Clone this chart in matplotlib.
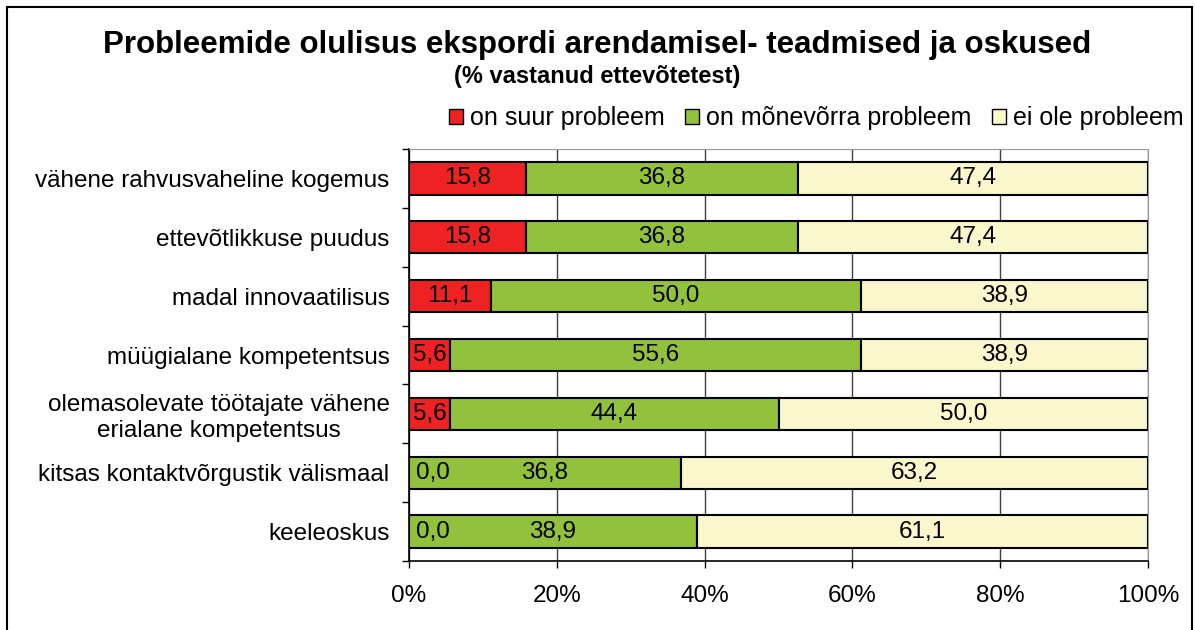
import numpy as np
import matplotlib.pyplot as plt
from matplotlib.patches import Rectangle, Patch

plt.rcParams['font.family'] = ['Liberation Sans', 'DejaVu Sans']

categories = ["vähene rahvusvaheline kogemus",
              "ettevõtlikkuse puudus",
              "madal innovaatilisus",
              "müügialane kompetentsus",
              "olemasolevate töötajate vähene\nerialane kompetentsus",
              "kitsas kontaktvõrgustik välismaal",
              "keeleoskus"]
suur = [15.8, 15.8, 11.1, 5.6, 5.6, 0.0, 0.0]
monevorra = [36.8, 36.8, 50.0, 55.6, 44.4, 36.8, 38.9]
ei_ole = [47.4, 47.4, 38.9, 38.9, 50.0, 63.2, 61.1]
series_names = ["on suur probleem", "on mõnevõrra probleem", "ei ole probleem"]
colors = ["#ee2222", "#92c13e", "#faf7cc"]

fig = plt.figure(figsize=(11.95, 6.3), dpi=100)
ax = fig.add_axes([0.3423, 0.1095, 0.6184, 0.654])

vals = np.array([suur, monevorra, ei_ole])
tot = vals.sum(axis=0)
pct = vals / tot * 100
y = np.arange(len(categories))

left = np.zeros(len(categories))
for i in range(3):
    ax.barh(y, pct[i], left=left, height=0.55, color=colors[i],
            edgecolor='black', linewidth=1.5, zorder=3)
    for j in range(len(categories)):
        lab = ("%.1f" % vals[i, j]).replace('.', ',')
        if vals[i, j] == 0:
            ax.text(left[j] + 0.9, y[j], lab, ha='left', va='center',
                    fontsize=17.5, zorder=4)
        else:
            ax.text(left[j] + pct[i, j] / 2, y[j], lab, ha='center', va='center',
                    fontsize=17.5, zorder=4)
    left += pct[i]

ax.set_xlim(0, 100)
ax.set_ylim(6.5, -0.5)
ax.set_xticks(np.arange(0, 101, 20))
ax.set_xticklabels(["%d%%" % v for v in range(0, 101, 20)], fontsize=17.5)
ax.tick_params(axis='x', length=5, width=1, pad=12)
ax.xaxis.grid(True, color='#404040', linewidth=1, zorder=0)
ax.set_axisbelow(True)

ax.set_yticks(y)
ax.set_yticklabels(categories, fontsize=17.5, multialignment='center')
ax.set_yticks(np.arange(-0.5, 7, 1), minor=True)
ax.tick_params(axis='y', which='major', length=0, pad=14)
ax.tick_params(axis='y', which='minor', length=5, width=1)

for s in ['top', 'right']:
    ax.spines[s].set_color('#999999')
ax.spines['left'].set_linewidth(1.2)
ax.spines['bottom'].set_linewidth(1.2)

fig.text(0.5, 0.929, "Probleemide olulisus ekspordi arendamisel- teadmised ja oskused",
         ha='center', va='center', fontsize=22.5, fontweight='bold')
fig.text(0.5, 0.879, "(% vastanud ettevõtetest)", ha='center', va='center',
         fontsize=17, fontweight='bold')

handles = [Patch(facecolor=c, edgecolor='black', linewidth=1) for c in colors]
fig.legend(handles, series_names, ncol=3, loc='center right',
           bbox_to_anchor=(1.0, 0.812), frameon=False, fontsize=18,
           handlelength=0.55, handleheight=0.55, handletextpad=0.3,
           columnspacing=0.8, borderaxespad=0.05)

fig.patches.append(Rectangle((7 / 1195, -0.01), 1185 / 1195, 1 - 7 / 630 + 0.01,
                             transform=fig.transFigure, fill=False,
                             edgecolor='black', linewidth=1.5))

fig.savefig("out.png", dpi=100)
